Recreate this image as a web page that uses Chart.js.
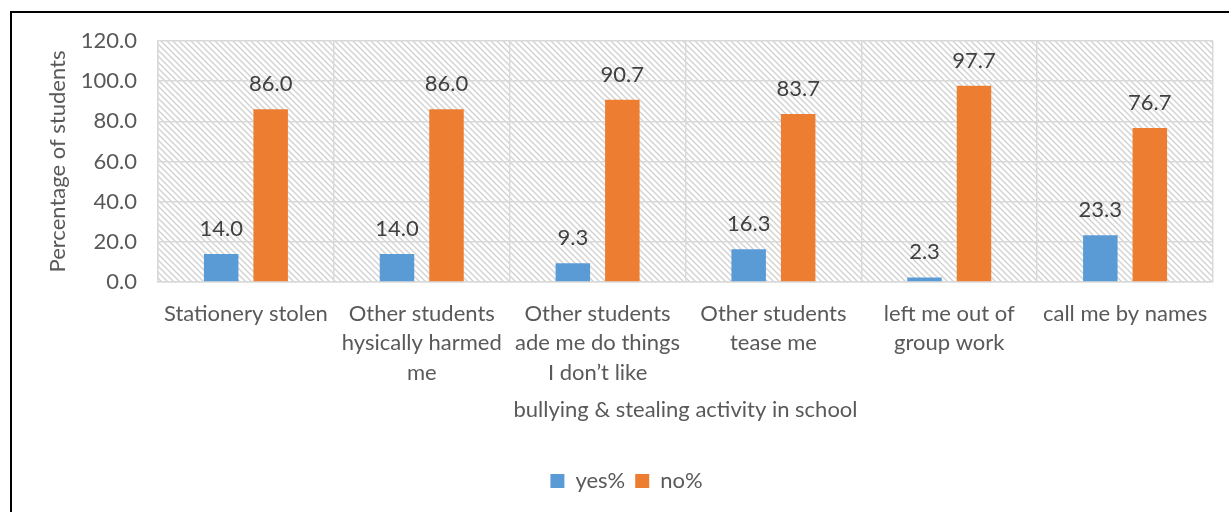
<!DOCTYPE html>
<html>
<head>
<meta charset="utf-8">
<script src="https://cdn.jsdelivr.net/npm/chart.js@4/dist/chart.umd.min.js"></script>
<style>
  html, body { margin: 0; padding: 0; background: #fff; }
  #wrap { width: 1229px; height: 512px; position: relative; }
</style>
</head>
<body>
<div id="wrap"><canvas id="c" width="1229" height="512"></canvas></div>
<script>
const categories = [
  ["Stationery stolen"],
  ["Other students", "hysically harmed", "me"],
  ["Other students", "ade me do things", "I don\u2019t like"],
  ["Other students", "tease me"],
  ["left me out of", "group work"],
  ["call me by names"]
];
const yesValues = [14.0, 14.0, 9.3, 16.3, 2.3, 23.3];
const noValues = [86.0, 86.0, 90.7, 83.7, 97.7, 76.7];
const seriesNames = ["yes%", "no%"];
const yTicks = [0, 20, 40, 60, 80, 100, 120];
const yTitle = "Percentage of students";
const xTitle = "bullying & stealing activity in school";

const FONT = "Lato, 'Open Sans', 'Liberation Sans', sans-serif";
const TXT = "#595959";

function makePattern() {
  const p = document.createElement('canvas');
  p.width = 6; p.height = 6;
  const g = p.getContext('2d');
  g.fillStyle = '#ffffff';
  g.fillRect(0, 0, 6, 6);
  g.strokeStyle = '#d2d2d2';
  g.lineWidth = 1.4;
  g.beginPath();
  g.moveTo(-1, -1); g.lineTo(7, 7);
  g.moveTo(-4, 2); g.lineTo(1, 7);
  g.moveTo(5, -1); g.lineTo(7, 1);
  g.stroke();
  return p;
}

const hatchPlugin = {
  id: 'hatch',
  beforeDraw(chart) {
    const ctx = chart.ctx;
    const a = chart.chartArea;
    ctx.save();
    ctx.fillStyle = '#ffffff';
    ctx.fillRect(0, 0, chart.width, chart.height);
    ctx.fillStyle = ctx.createPattern(makePattern(), 'repeat');
    ctx.fillRect(a.left, a.top, a.right - a.left, a.bottom - a.top);
    ctx.strokeStyle = '#000';
    ctx.lineWidth = 2;
    ctx.beginPath();
    ctx.moveTo(11, 512);
    ctx.lineTo(11, 12);
    ctx.lineTo(1229, 12);
    ctx.stroke();
    ctx.restore();
  }
};

const labelPlugin = {
  id: 'valueLabels',
  afterDatasetsDraw(chart) {
    const ctx = chart.ctx;
    ctx.save();
    ctx.font = "22px " + FONT;
    ctx.fillStyle = '#404040';
    ctx.textAlign = 'center';
    ctx.textBaseline = 'alphabetic';
    chart.data.datasets.forEach((ds, i) => {
      const meta = chart.getDatasetMeta(i);
      meta.data.forEach((el, j) => {
        ctx.fillText(ds.data[j].toFixed(1), el.x, el.y - 18);
      });
    });
    ctx.restore();
  }
};

new Chart(document.getElementById('c'), {
  type: 'bar',
  data: {
    labels: categories,
    datasets: [
      { label: seriesNames[0], data: yesValues, backgroundColor: '#5B9BD5', categoryPercentage: 0.563, barPercentage: 0.697 },
      { label: seriesNames[1], data: noValues, backgroundColor: '#ED7D31', categoryPercentage: 0.563, barPercentage: 0.697 }
    ]
  },
  plugins: [hatchPlugin, labelPlugin],
  options: {
    responsive: false,
    animation: false,
    layout: { padding: { left: 40, top: 41, right: 16, bottom: 10 } },
    plugins: {
      tooltip: { enabled: false },
      legend: {
        position: 'bottom',
        labels: {
          boxWidth: 14, boxHeight: 14, padding: 10,
          color: TXT,
          font: { family: FONT, size: 22 }
        }
      }
    },
    scales: {
      x: {
        grid: { color: '#d9d9d9', lineWidth: 1.5, drawTicks: false, offset: true },
        border: { color: '#d9d9d9', width: 1.5 },
        ticks: {
          color: TXT, padding: 17, maxRotation: 0, autoSkip: false,
          font: { family: FONT, size: 22, lineHeight: 1.34 }
        },
        title: {
          display: true, text: xTitle, color: TXT,
          font: { family: FONT, size: 22 },
          padding: { top: 0, bottom: 37 }
        },
        afterFit(scale) { scale.height = 178; }
      },
      y: {
        min: 0, max: 120,
        afterBuildTicks(scale) { scale.ticks = yTicks.map(v => ({ value: v })); },
        grid: { color: '#d9d9d9', lineWidth: 1.5, drawTicks: false },
        border: { color: '#d9d9d9', width: 1.5 },
        ticks: {
          color: TXT, padding: 21,
          font: { family: FONT, size: 22 },
          callback: v => Number(v).toFixed(1)
        },
        title: {
          display: true, text: yTitle, color: TXT,
          font: { family: FONT, size: 22 },
          padding: { top: 5, bottom: 0 }
        },
        afterFit(scale) { scale.width = 118; }
      }
    }
  }
});
</script>
</body>
</html>
